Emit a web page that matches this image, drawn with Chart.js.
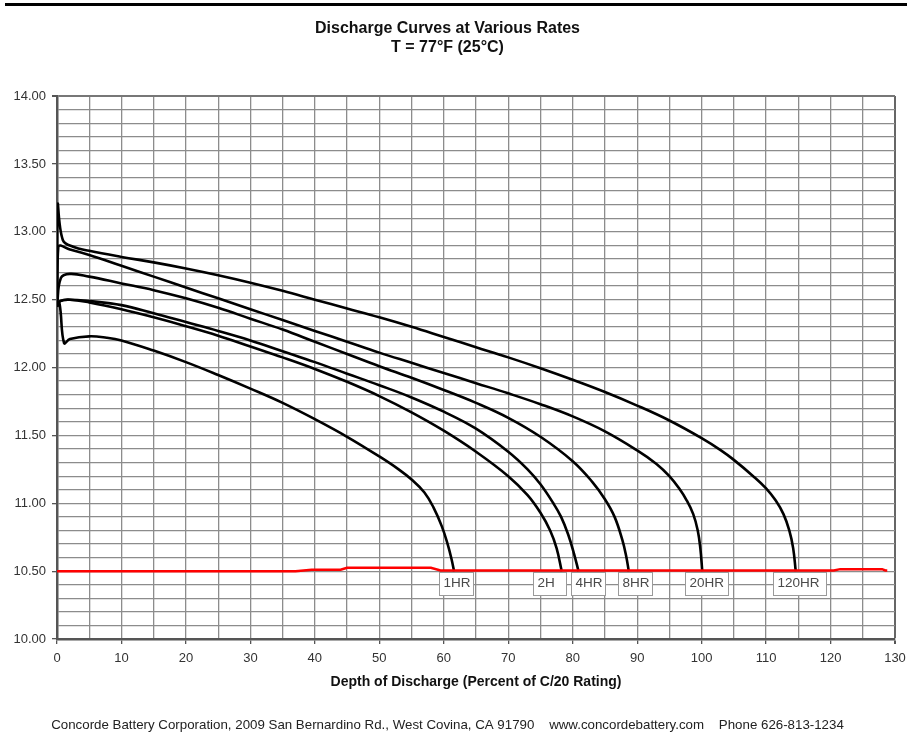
<!DOCTYPE html>
<html>
<head>
<meta charset="utf-8">
<title>Discharge Curves at Various Rates</title>
<script src="https://cdn.jsdelivr.net/npm/chart.js@4.4.1/dist/chart.umd.min.js"></script>
<style>
  html, body { margin: 0; padding: 0; background: #fff; }
  #wrap { width: 907px; height: 742px; }
</style>
</head>
<body>
<div id="wrap"><canvas id="discharge" width="907" height="742"></canvas></div>
<script>
// depth of discharge (% of C/20 rating) and terminal volts, per discharge rate
const dod1hr = [0, 0.4, 1.1, 2, 5, 7.7, 10, 15, 20, 25, 30, 35, 40, 45, 50, 53, 55, 57, 58.4, 59.7, 60.6, 61.2, 61.6];
const volts1hr = [12.48, 12.47, 12.18, 12.21, 12.23, 12.22, 12.2, 12.125, 12.04, 11.945, 11.845, 11.74, 11.62, 11.49, 11.345, 11.25, 11.175, 11.08, 10.97, 10.83, 10.7, 10.59, 10.5];

const dod2hr = [0, 0.5, 2, 5, 10, 15, 20, 25, 30, 35, 40, 45, 50, 55, 60, 65, 70, 73, 75, 76.5, 77.5, 78.3];
const volts2hr = [12.45, 12.49, 12.5, 12.48, 12.43, 12.37, 12.305, 12.235, 12.155, 12.075, 11.99, 11.895, 11.79, 11.67, 11.535, 11.38, 11.2, 11.06, 10.93, 10.8, 10.67, 10.5];

const dod4hr = [0, 0.5, 2, 5, 10, 15, 20, 25, 30, 35, 40, 45, 50, 55, 60, 65, 70, 73, 75, 77, 78.2, 79.3, 80.2, 80.9];
const volts4hr = [12.45, 12.49, 12.5, 12.49, 12.46, 12.4, 12.335, 12.27, 12.2, 12.12, 12.04, 11.955, 11.87, 11.78, 11.675, 11.55, 11.38, 11.25, 11.14, 11.0, 10.9, 10.77, 10.63, 10.5];

const dod8hr = [0, 0.6, 2, 5, 10, 15, 20, 25, 30, 35, 40, 45, 50, 55, 60, 65, 70, 75, 80, 83, 85, 86.5, 87.7, 88.3, 88.7];
const volts8hr = [12.45, 12.66, 12.69, 12.67, 12.62, 12.57, 12.51, 12.44, 12.36, 12.28, 12.19, 12.1, 12.01, 11.925, 11.835, 11.74, 11.63, 11.49, 11.31, 11.16, 11.03, 10.9, 10.73, 10.61, 10.5];

const dod20hr = [0, 0.2, 2, 5, 10, 15, 20, 25, 30, 35, 40, 45, 50, 55, 60, 65, 70, 75, 80, 85, 90, 93, 95, 96.5, 97.7, 98.7, 99.4, 99.8, 100.1];
const volts20hr = [12.5, 12.89, 12.87, 12.83, 12.75, 12.67, 12.59, 12.51, 12.43, 12.35, 12.27, 12.19, 12.11, 12.035, 11.96, 11.885, 11.81, 11.73, 11.64, 11.53, 11.39, 11.29, 11.2, 11.11, 11.02, 10.92, 10.8, 10.67, 10.5];

const dod120hr = [0, 0.1, 0.9, 2.5, 5, 10, 15, 20, 25, 30, 35, 40, 45, 50, 55, 60, 65, 70, 75, 80, 85, 90, 95, 100, 103, 105, 108, 110, 111.5, 112.7, 113.6, 114.2, 114.6];
const volts120hr = [12.45, 13.2, 12.94, 12.89, 12.86, 12.815, 12.775, 12.73, 12.68, 12.625, 12.565, 12.5, 12.435, 12.37, 12.3, 12.225, 12.15, 12.075, 11.995, 11.91, 11.82, 11.72, 11.61, 11.48, 11.39, 11.32, 11.2, 11.11, 11.02, 10.92, 10.8, 10.67, 10.5];

// 10.5 V end-of-discharge line
const dodCutoff = [0, 37, 39.5, 44, 45, 58, 59.5, 120.5, 121.5, 128, 128.5, 128.8];
const voltsCutoff = [10.5, 10.5, 10.51, 10.51, 10.525, 10.525, 10.505, 10.505, 10.515, 10.515, 10.505, 10.505];

const rateNames = ['1HR', '2H', '4HR', '8HR', '20HR', '120HR'];
const rateDod = [dod1hr, dod2hr, dod4hr, dod8hr, dod20hr, dod120hr];
const rateVolts = [volts1hr, volts2hr, volts4hr, volts8hr, volts20hr, volts120hr];

const xMin = 0, xMax = 130, xGridStep = 5, xLabelStep = 10;
const yMin = 10, yMax = 14, yGridStep = 0.1, yLabelStep = 0.5;

const toPoints = (xs, ys) => xs.map((x, i) => ({ x, y: ys[i] }));
const isLabelled = (v, step) => Math.abs(v / step - Math.round(v / step)) < 1e-6;

const datasets = [{
    label: 'cutoff',
    data: toPoints(dodCutoff, voltsCutoff),
    borderColor: '#ff0000',
    borderWidth: 2.5,
    pointRadius: 0,
    tension: 0
}];

rateNames.forEach((name, i) => {
    datasets.push({
        label: name,
        data: toPoints(rateDod[i], rateVolts[i]),
        borderColor: '#000000',
        borderWidth: 2.6,
        pointRadius: 0,
        tension: 0.4
    });
});

// thick rule across the top of the sheet
const headRule = {
    id: 'headRule',
    beforeDraw(chart) {
        const { ctx } = chart;
        ctx.save();
        ctx.fillStyle = '#000';
        ctx.fillRect(5, 3, chart.width - 5, 3);
        ctx.restore();
    }
};

// boxed rate names hanging under the end of each curve
const rateTags = {
    id: 'rateTags',
    afterDatasetsDraw(chart, args, opts) {
        const { ctx } = chart;
        ctx.save();
        ctx.font = '13.5px "Liberation Sans", Arial, sans-serif';
        ctx.textBaseline = 'middle';
        chart.data.datasets.forEach((ds, i) => {
            if (i === 0) return;
            const pts = chart.getDatasetMeta(i).data;
            const end = pts[pts.length - 1];
            const tw = ctx.measureText(ds.label).width;
            const w = Math.round(Math.max(33, tw * 1.25));
            const h = 23;
            const left = Math.round(end.x + opts.shift[i - 1]) + 0.5;
            const top = Math.round(end.y + 1) + 0.5;
            ctx.fillStyle = '#fff';
            ctx.fillRect(left, top, w, h);
            ctx.strokeStyle = '#9a9a9a';
            ctx.lineWidth = 1;
            ctx.strokeRect(left, top, w, h);
            ctx.fillStyle = '#4a4a4a';
            ctx.fillText(ds.label, left + 4, top + h / 2 - 1);
        });
        ctx.restore();
    }
};

const config = {
    type: 'line',
    data: { datasets },
    options: {
        responsive: false,
        animation: false,
        devicePixelRatio: 1,
        layout: { padding: { left: 0, right: 12, top: 0, bottom: 0 } },
        plugins: {
            legend: { display: false },
            tooltip: { enabled: false },
            title: {
                display: true,
                text: ['Discharge Curves at Various Rates', 'T = 77°F (25°C)'],
                color: '#111',
                font: { family: '"Liberation Sans", Arial, sans-serif', size: 16, weight: 'bold', lineHeight: 1.19 },
                padding: { top: 19, bottom: 39 }
            },
            subtitle: {
                display: true,
                position: 'bottom',
                text: 'Concorde Battery Corporation, 2009 San Bernardino Rd., West Covina, CA 91790    www.concordebattery.com    Phone 626-813-1234',
                color: '#222',
                font: { family: '"Liberation Sans", Arial, sans-serif', size: 13.3, weight: 'normal', lineHeight: 1.2 },
                padding: { top: 0, bottom: 9 }
            },
            rateTags: { shift: [-15, -29, -7, -11, -17, -23] }
        },
        scales: {
            x: {
                type: 'linear',
                min: xMin,
                max: xMax,
                border: { display: true, color: '#555', width: 2.5 },
                grid: {
                    color: c => c.tick && c.tick.value === xMax ? '#666' : '#8c8c8c',
                    lineWidth: c => c.tick && c.tick.value === xMax ? 2 : 1.3,
                    tickLength: 5,
                    tickColor: c => isLabelled(c.tick.value, xLabelStep) ? '#555' : 'rgba(0,0,0,0)'
                },
                ticks: {
                    stepSize: xGridStep,
                    autoSkip: false,
                    maxRotation: 0,
                    padding: 7,
                    color: '#333',
                    font: { family: '"Liberation Sans", Arial, sans-serif', size: 13 },
                    callback: v => isLabelled(v, xLabelStep) ? String(Math.round(v)) : ''
                },
                title: {
                    display: true,
                    text: 'Depth of Discharge (Percent of C/20 Rating)',
                    color: '#111',
                    font: { family: '"Liberation Sans", Arial, sans-serif', size: 14, weight: 'bold', lineHeight: 1.2 },
                    padding: { top: 8, bottom: 26 }
                },
                afterFit(scale) {
                    scale.height = 78;
                    scale.paddingRight = 0;
                }
            },
            y: {
                type: 'linear',
                min: yMin,
                max: yMax,
                border: { display: true, color: '#555', width: 2.5 },
                grid: {
                    color: c => c.tick && c.tick.value === yMax ? '#777' : '#8c8c8c',
                    lineWidth: c => c.tick && c.tick.value === yMax ? 2 : 1.3,
                    tickLength: 5,
                    tickColor: c => isLabelled(c.tick.value, yLabelStep) ? '#555' : 'rgba(0,0,0,0)'
                },
                ticks: {
                    stepSize: yGridStep,
                    autoSkip: false,
                    padding: 6,
                    color: '#333',
                    font: { family: '"Liberation Sans", Arial, sans-serif', size: 13 },
                    callback: v => isLabelled(v, yLabelStep) ? v.toFixed(2) : ''
                },
                afterFit(scale) {
                    scale.width = 57;
                }
            }
        }
    },
    plugins: [headRule, rateTags]
};

const myChart = new Chart(document.getElementById('discharge'), config);
</script>
</body>
</html>
